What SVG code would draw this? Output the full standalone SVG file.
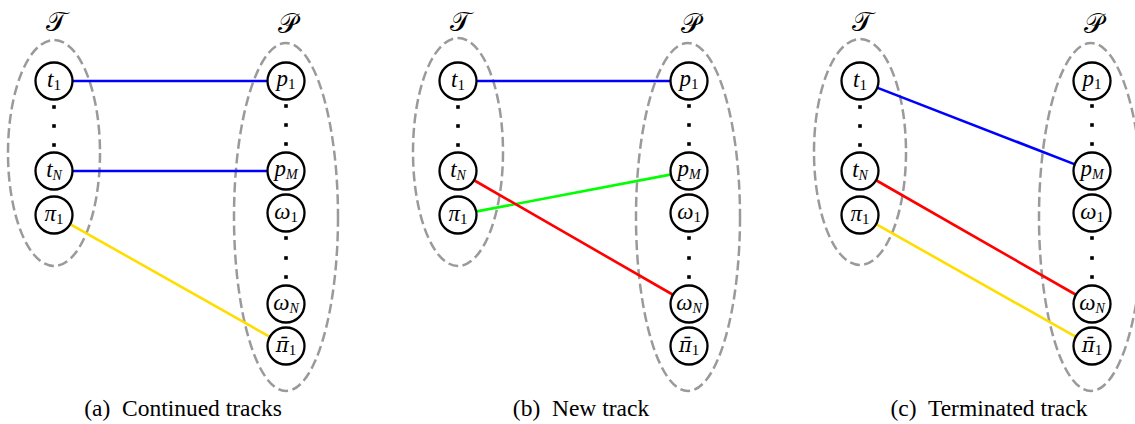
<svg xmlns="http://www.w3.org/2000/svg" width="1135" height="424" viewBox="0 0 1135 424">
<style>
.set{fill:none;stroke:#9a9a9a;stroke-width:2.5;stroke-dasharray:10 4.5}
.nd{fill:#fff;stroke:#000;stroke-width:2.3}
.lb{font-family:"Liberation Serif","DejaVu Serif",serif;font-style:italic;font-size:23px;fill:#000}
.sb{font-style:normal;font-size:15px}
.sbi{font-style:italic;font-size:14px}
.bar{font-family:"DejaVu Serif",serif;font-size:20px}
.set-lb{font-family:"DejaVu Serif","DejaVu Sans",serif;font-size:27px;font-weight:normal;fill:#000}
.cap{font-family:"Liberation Serif",serif;font-size:23.5px;fill:#000}
.e{stroke-width:2.6;fill:none}
.blue{stroke:#0000ff}.red{stroke:#ff0000}.green{stroke:#00ff00}.yellow{stroke:#ffdd00}
.dot{fill:#000}
</style>
<defs>
<rect id="d" x="-1.8" y="-1.8" width="3.6" height="3.6" class="dot"/>
</defs>

<!-- sets -->
<g id="sets">
<ellipse class="set" cx="54" cy="153" rx="46" ry="113"/>
<ellipse class="set" cx="286" cy="217" rx="52" ry="174"/>
<ellipse class="set" cx="458" cy="152" rx="45" ry="114"/>
<ellipse class="set" cx="688" cy="217" rx="52" ry="174"/>
<ellipse class="set" cx="860" cy="152" rx="46" ry="113"/>
<ellipse class="set" cx="1091" cy="217" rx="52" ry="174"/>
<text class="set-lb" x="56" y="31" text-anchor="middle">𝒯</text>
<text class="set-lb" x="287" y="33" text-anchor="middle">𝒫</text>
<text class="set-lb" x="460" y="31" text-anchor="middle">𝒯</text>
<text class="set-lb" x="690" y="33" text-anchor="middle">𝒫</text>
<text class="set-lb" x="862" y="31" text-anchor="middle">𝒯</text>
<text class="set-lb" x="1093" y="33" text-anchor="middle">𝒫</text>
</g>

<!-- connectors -->
<g id="connectors">
<line class="e blue" x1="73" y1="81" x2="267" y2="81"/>
<line class="e blue" x1="73" y1="171" x2="267" y2="171"/>
<line class="e yellow" x1="70.5" y1="224.3" x2="269.5" y2="336.7"/>
<line class="e blue" x1="477" y1="81" x2="670" y2="81"/>
<line class="e green" x1="476.7" y1="211.4" x2="670.3" y2="174.6"/>
<line class="e red" x1="474.5" y1="180.5" x2="672.5" y2="294.5"/>
<line class="e blue" x1="877.7" y1="87.9" x2="1074.3" y2="164.1"/>
<line class="e red" x1="876.5" y1="180.5" x2="1075.5" y2="294.5"/>
<line class="e yellow" x1="876.5" y1="224.3" x2="1075.5" y2="336.7"/>
</g>

<!-- dots -->
<g id="dots">
<use href="#d" x="54" y="107"/><use href="#d" x="54" y="126"/><use href="#d" x="54" y="145"/>
<use href="#d" x="286" y="106"/><use href="#d" x="286" y="125"/><use href="#d" x="286" y="144"/>
<use href="#d" x="286" y="238"/><use href="#d" x="286" y="258"/><use href="#d" x="286" y="277"/>
<use href="#d" x="458" y="107"/><use href="#d" x="458" y="126"/><use href="#d" x="458" y="145"/>
<use href="#d" x="689" y="106"/><use href="#d" x="689" y="125"/><use href="#d" x="689" y="144"/>
<use href="#d" x="689" y="238"/><use href="#d" x="689" y="258"/><use href="#d" x="689" y="277"/>
<use href="#d" x="860" y="107"/><use href="#d" x="860" y="126"/><use href="#d" x="860" y="145"/>
<use href="#d" x="1092" y="106"/><use href="#d" x="1092" y="125"/><use href="#d" x="1092" y="144"/>
<use href="#d" x="1092" y="238"/><use href="#d" x="1092" y="258"/><use href="#d" x="1092" y="277"/>
</g>

<!-- panel a nodes -->
<g id="a-t1"><circle class="nd" cx="54" cy="81" r="18.5"/><text class="lb" x="54" y="87" text-anchor="middle">t<tspan class="sb" dy="3">1</tspan></text></g>
<g id="a-tN"><circle class="nd" cx="54" cy="171" r="18.5"/><text class="lb" x="54" y="177" text-anchor="middle">t<tspan class="sbi" dy="3">N</tspan></text></g>
<g id="a-pi1"><circle class="nd" cx="54" cy="215" r="18.5"/><text class="lb" x="54" y="221" text-anchor="middle">π<tspan class="sb" dy="3">1</tspan></text></g>
<g id="a-p1"><circle class="nd" cx="286" cy="81" r="18.5"/><text class="lb" x="286" y="86" text-anchor="middle">p<tspan class="sb" dy="3">1</tspan></text></g>
<g id="a-pM"><circle class="nd" cx="286" cy="171" r="18.5"/><text class="lb" x="286" y="176" text-anchor="middle">p<tspan class="sbi" dy="3">M</tspan></text></g>
<g id="a-w1"><circle class="nd" cx="286" cy="213" r="18.5"/><text class="lb" x="286" y="219" text-anchor="middle">ω<tspan class="sb" dy="3">1</tspan></text></g>
<g id="a-wN"><circle class="nd" cx="286" cy="304" r="18.5"/><text class="lb" x="286" y="310" text-anchor="middle">ω<tspan class="sbi" dy="3">N</tspan></text></g>
<g id="a-pib1"><circle class="nd" cx="286" cy="346" r="18.5"/><text class="lb" x="286" y="352" text-anchor="middle"><tspan class="bar">π̄</tspan><tspan class="sb" dy="3">1</tspan></text></g>

<!-- panel b nodes -->
<g id="b-t1"><circle class="nd" cx="458" cy="81" r="18.5"/><text class="lb" x="458" y="87" text-anchor="middle">t<tspan class="sb" dy="3">1</tspan></text></g>
<g id="b-tN"><circle class="nd" cx="458" cy="171" r="18.5"/><text class="lb" x="458" y="177" text-anchor="middle">t<tspan class="sbi" dy="3">N</tspan></text></g>
<g id="b-pi1"><circle class="nd" cx="458" cy="215" r="18.5"/><text class="lb" x="458" y="221" text-anchor="middle">π<tspan class="sb" dy="3">1</tspan></text></g>
<g id="b-p1"><circle class="nd" cx="689" cy="81" r="18.5"/><text class="lb" x="689" y="86" text-anchor="middle">p<tspan class="sb" dy="3">1</tspan></text></g>
<g id="b-pM"><circle class="nd" cx="689" cy="171" r="18.5"/><text class="lb" x="689" y="176" text-anchor="middle">p<tspan class="sbi" dy="3">M</tspan></text></g>
<g id="b-w1"><circle class="nd" cx="689" cy="213" r="18.5"/><text class="lb" x="689" y="219" text-anchor="middle">ω<tspan class="sb" dy="3">1</tspan></text></g>
<g id="b-wN"><circle class="nd" cx="689" cy="304" r="18.5"/><text class="lb" x="689" y="310" text-anchor="middle">ω<tspan class="sbi" dy="3">N</tspan></text></g>
<g id="b-pib1"><circle class="nd" cx="689" cy="346" r="18.5"/><text class="lb" x="689" y="352" text-anchor="middle"><tspan class="bar">π̄</tspan><tspan class="sb" dy="3">1</tspan></text></g>

<!-- panel c nodes -->
<g id="c-t1"><circle class="nd" cx="860" cy="81" r="18.5"/><text class="lb" x="860" y="87" text-anchor="middle">t<tspan class="sb" dy="3">1</tspan></text></g>
<g id="c-tN"><circle class="nd" cx="860" cy="171" r="18.5"/><text class="lb" x="860" y="177" text-anchor="middle">t<tspan class="sbi" dy="3">N</tspan></text></g>
<g id="c-pi1"><circle class="nd" cx="860" cy="215" r="18.5"/><text class="lb" x="860" y="221" text-anchor="middle">π<tspan class="sb" dy="3">1</tspan></text></g>
<g id="c-p1"><circle class="nd" cx="1092" cy="81" r="18.5"/><text class="lb" x="1092" y="86" text-anchor="middle">p<tspan class="sb" dy="3">1</tspan></text></g>
<g id="c-pM"><circle class="nd" cx="1092" cy="171" r="18.5"/><text class="lb" x="1092" y="176" text-anchor="middle">p<tspan class="sbi" dy="3">M</tspan></text></g>
<g id="c-w1"><circle class="nd" cx="1092" cy="213" r="18.5"/><text class="lb" x="1092" y="219" text-anchor="middle">ω<tspan class="sb" dy="3">1</tspan></text></g>
<g id="c-wN"><circle class="nd" cx="1092" cy="304" r="18.5"/><text class="lb" x="1092" y="310" text-anchor="middle">ω<tspan class="sbi" dy="3">N</tspan></text></g>
<g id="c-pib1"><circle class="nd" cx="1092" cy="346" r="18.5"/><text class="lb" x="1092" y="352" text-anchor="middle"><tspan class="bar">π̄</tspan><tspan class="sb" dy="3">1</tspan></text></g>

<!-- captions -->
<g id="captions">
<text class="cap" x="183" y="416" text-anchor="middle" xml:space="preserve">(a)  Continued tracks</text>
<text class="cap" x="581" y="416" text-anchor="middle" xml:space="preserve">(b)  New track</text>
<text class="cap" x="989" y="416" text-anchor="middle" xml:space="preserve">(c)  Terminated track</text>
</g>
</svg>
